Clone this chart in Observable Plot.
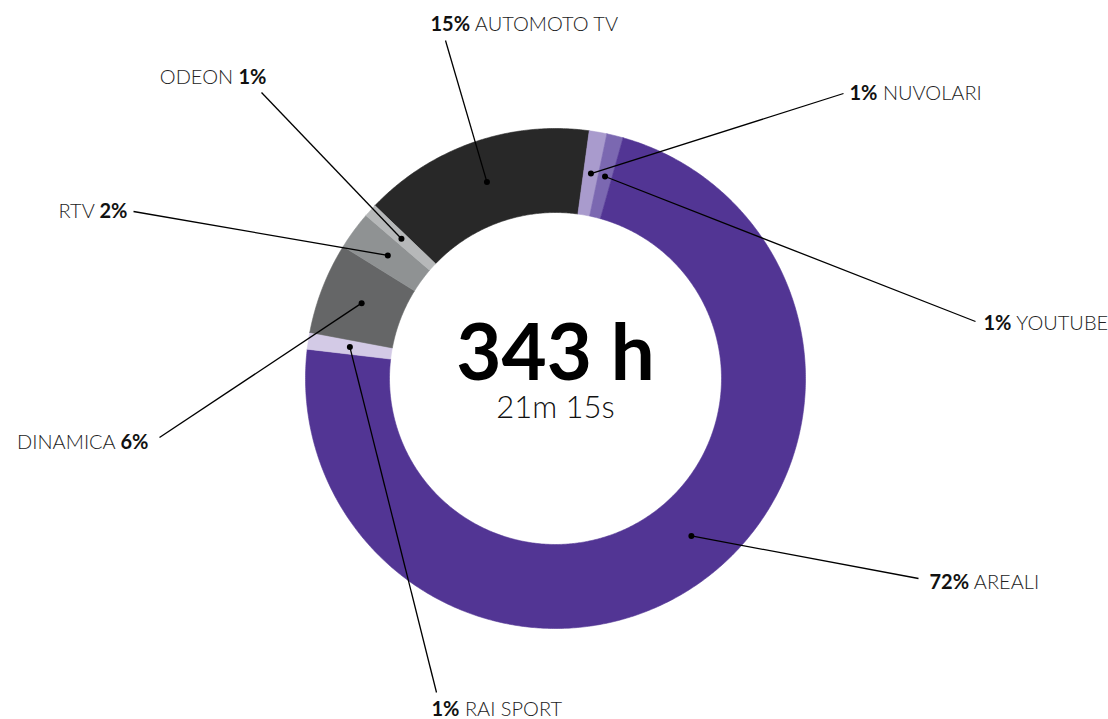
<!DOCTYPE html>
<html>
<head>
<meta charset="utf-8">
<script src="https://cdn.jsdelivr.net/npm/d3@7"></script>
<script src="https://cdn.jsdelivr.net/npm/@observablehq/plot@0.6"></script>
<style>
  html, body { margin: 0; padding: 0; background: #fff; }
  #chart svg { display: block; }
</style>
</head>
<body>
<div id="chart"></div>
<script>
// ---- data ----
const names = ["AUTOMOTO TV", "NUVOLARI", "YOUTUBE", "AREALI", "RAI SPORT", "DINAMICA", "RTV", "ODEON"];
const shares = [15.0, 1.14, 1.06, 72.5, 1.08, 5.9, 2.45, 0.85];
const pctLabels = ["15%", "1%", "1%", "72%", "1%", "6%", "2%", "1%"];
const colors = ["#282828", "#a99bcd", "#7b68b1", "#523594", "#d3cae6", "#656667", "#8f9293", "#b6b8b9"];
const centerTitle = ["343 h"];
const centerSub = ["21m 15s"];

// ---- layout ----
const W = 1108, H = 719, CX = 555, CY = 378, R_OUT = 250, R_IN = 166;
const START_DEG = -46.25;
const labelLayout = [
  {name: "AUTOMOTO TV", tx: 430, ty: 30,  anchor: "start", lx: 445, ly: 40,  pctFirst: true},
  {name: "NUVOLARI",    tx: 849, ty: 99,  anchor: "start", lx: 843, ly: 93,  pctFirst: true},
  {name: "YOUTUBE",     tx: 983, ty: 329, anchor: "start", lx: 975, ly: 321, pctFirst: true},
  {name: "AREALI",      tx: 929, ty: 588, anchor: "start", lx: 918, ly: 578, pctFirst: true, dotShift: -7},
  {name: "RAI SPORT",   tx: 431, ty: 715, anchor: "start", lx: 436, ly: 692, pctFirst: true},
  {name: "DINAMICA",    tx: 148, ty: 448, anchor: "end",   lx: 159, ly: 437, pctFirst: false},
  {name: "RTV",         tx: 127, ty: 217, anchor: "end",   lx: 133, ly: 211, pctFirst: false},
  {name: "ODEON",       tx: 266, ty: 83,  anchor: "end",   lx: 261, ly: 92,  pctFirst: false}
];

// ---- derived ----
const slicesData = names.map((name, i) => ({name, value: shares[i], pct: pctLabels[i]}));
const start = START_DEG * Math.PI / 180;
const arcs = d3.pie().sort(null).value(d => d.value).startAngle(start).endAngle(start + 2 * Math.PI)(slicesData);

const pt = (r, a) => ({x: r * Math.sin(a), y: -r * Math.cos(a)});
const polyPoints = [];
for (const a of arcs) {
  const n = Math.max(2, Math.ceil((a.endAngle - a.startAngle) / (Math.PI / 360)) + 1);
  const ring = [];
  for (let k = 0; k < n; k++) ring.push(pt(R_OUT, a.startAngle + (a.endAngle - a.startAngle) * k / (n - 1)));
  for (let k = n - 1; k >= 0; k--) ring.push(pt(R_IN, a.startAngle + (a.endAngle - a.startAngle) * k / (n - 1)));
  ring.push(ring[0]);
  for (const p of ring) polyPoints.push({...p, name: a.data.name});
}

const labels = labelLayout.map(L => {
  const a = arcs.find(d => d.data.name === L.name);
  const mid = (a.startAngle + a.endAngle) / 2 + (L.dotShift || 0) * Math.PI / 180;
  const d = pt((R_OUT + R_IN) / 2, mid);
  return {
    ...L,
    pct: a.data.pct,
    dx: d.x, dy: d.y,
    x2: L.lx - CX, y2: L.ly - CY,
    tx0: L.tx - CX, ty0: L.ty - CY,
    full: L.pctFirst ? a.data.pct + " " + L.name : L.name + " " + a.data.pct
  };
});

const FONT = "Lato, 'Open Sans', sans-serif";

const plot = Plot.plot({
  width: W,
  height: H,
  margin: 0,
  style: {fontFamily: FONT, background: "#fff"},
  x: {domain: [-CX, W - CX], range: [0, W], axis: null},
  y: {domain: [-CY, H - CY], range: [0, H], axis: null},
  color: {domain: names, range: colors},
  marks: [
    Plot.line(polyPoints, {x: "x", y: "y", z: "name", fill: "name", stroke: "name", strokeWidth: 0.6, curve: "linear"}),
    Plot.link(labels, {x1: "dx", y1: "dy", x2: "x2", y2: "y2", stroke: "#000", strokeWidth: 1.3}),
    Plot.dot(labels, {x: "dx", y: "dy", r: 3, fill: "#000", stroke: null}),
    Plot.text(labels, {
      x: "tx0", y: "ty0", text: "full",
      textAnchor: d => d.anchor,
      lineAnchor: "bottom",
      fontSize: 20, fontWeight: 300, fill: "#222",
      ariaDescription: "labels"
    }),
    Plot.text(centerTitle, {x: () => 0, y: () => 379 - CY, text: d => d, lineAnchor: "bottom", textAnchor: "middle", fontSize: 78, fontWeight: 700, fill: "#000"}),
    Plot.text(centerSub, {x: () => 0, y: () => 417 - CY, text: d => d, lineAnchor: "bottom", textAnchor: "middle", fontSize: 31, fontWeight: 300, fill: "#111"})
  ]
});

// Mixed weights: bold percentage + light name, as tspans
plot.querySelectorAll('g[aria-description="labels"] text').forEach(t => {
  const L = labels.find(l => l.full === t.textContent);
  if (!L) return;
  const anchor = L.anchor;
  t.setAttribute("text-anchor", anchor === "end" ? "end" : "start");
  while (t.firstChild) t.removeChild(t.firstChild);
  const mk = (txt, bold) => {
    const s = document.createElementNS("http://www.w3.org/2000/svg", "tspan");
    s.textContent = txt;
    if (bold) { s.setAttribute("font-weight", "700"); s.setAttribute("fill", "#111"); }
    return s;
  };
  if (L.pctFirst) { t.appendChild(mk(L.pct, true)); t.appendChild(mk(" " + L.name, false)); }
  else { t.appendChild(mk(L.name + " ", false)); t.appendChild(mk(L.pct, true)); }
});

document.getElementById("chart").appendChild(plot);
</script>
</body>
</html>
